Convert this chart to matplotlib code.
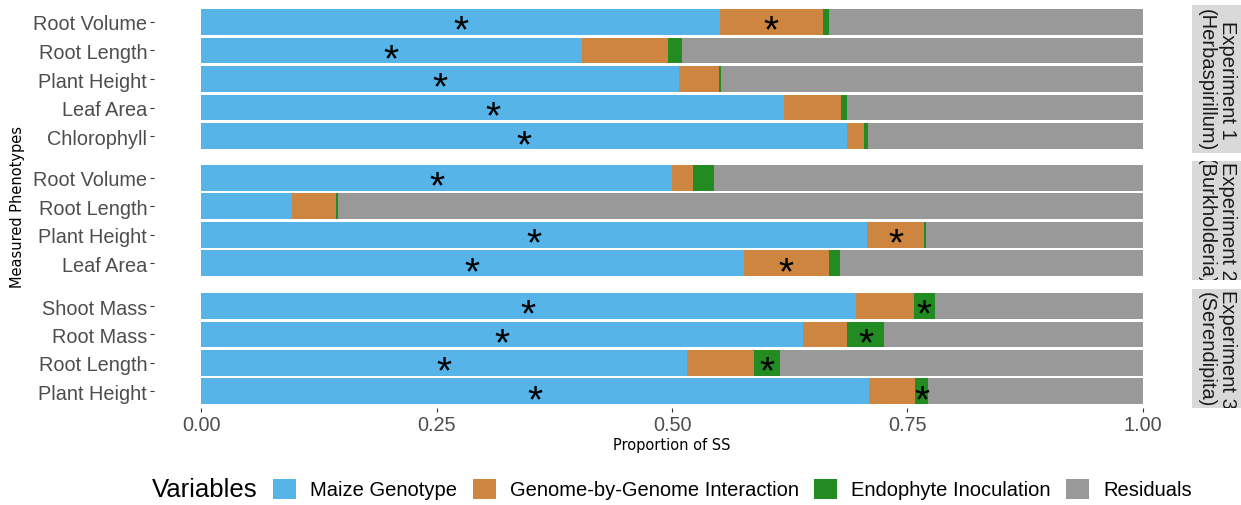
import matplotlib.pyplot as plt
from matplotlib.patches import Patch

# data (proportion of sum of squares)
experiments = ["Experiment 1\n(Herbaspirillum)", "Experiment 2\n(Burkholderia)", "Experiment 3\n(Serendipita)"]
phenotypes = [["Root Volume", "Root Length", "Plant Height", "Leaf Area", "Chlorophyll"],
              ["Root Volume", "Root Length", "Plant Height", "Leaf Area"],
              ["Shoot Mass", "Root Mass", "Root Length", "Plant Height"]]
maize = [[0.551, 0.404, 0.507, 0.619, 0.686],
         [0.500, 0.097, 0.707, 0.576],
         [0.695, 0.639, 0.516, 0.709]]
gxg = [[0.109, 0.092, 0.043, 0.060, 0.018],
       [0.022, 0.046, 0.061, 0.091],
       [0.062, 0.047, 0.071, 0.049]]
endo = [[0.007, 0.015, 0.002, 0.007, 0.004],
        [0.023, 0.002, 0.002, 0.011],
        [0.022, 0.039, 0.028, 0.014]]
resid = [[0.333, 0.489, 0.448, 0.314, 0.292],
         [0.455, 0.855, 0.230, 0.322],
         [0.221, 0.275, 0.385, 0.228]]
# index of significant terms (0 maize, 1 gxg, 2 endophyte)
signif = [[[0, 1], [0], [0], [0], [0]],
          [[0], [], [0, 1], [0, 1]],
          [[0, 2], [0, 2], [0, 2], [0, 2]]]

var_names = ["Maize Genotype", "Genome-by-Genome Interaction", "Endophyte Inoculation", "Residuals"]
colors = ["#56B4E9", "#CD853F", "#228B22", "#999999"]

W, H = 1241, 506
fig = plt.figure(figsize=(W / 100, H / 100), dpi=100)

tickfont = "Liberation Sans"
panels_px = [(5.7, 154.3), (161.7, 281.3), (290.0, 409.3)]
x0, x1 = 154, 1190

for k in range(3):
    top, bot = panels_px[k]
    ax = fig.add_axes([x0 / W, 1 - bot / H, (x1 - x0) / W, (bot - top) / H])
    n = len(phenotypes[k])
    ys = list(range(n))
    left = [0] * n
    series = [maize[k], gxg[k], endo[k], resid[k]]
    for s, vals in enumerate(series):
        ax.barh(ys, vals, left=left, height=0.9, color=colors[s], linewidth=0)
        for i in range(n):
            if s in signif[k][i]:
                ax.text(left[i] + vals[i] / 2, i + 0.34, "*", ha="center", va="center",
                        fontsize=28, family=tickfont, color="black")
        left = [a + b for a, b in zip(left, vals)]
    ax.set_xlim(-0.05, 1.05)
    ax.set_ylim(n - 1 + 0.6, -0.6)
    ax.set_yticks(ys)
    ax.set_yticklabels(phenotypes[k], family=tickfont, fontsize=14.3, color="#4d4d4d")
    for sp in ax.spines.values():
        sp.set_visible(False)
    ax.tick_params(axis="y", length=2.7, width=0.8, color="#333333", pad=2.2)
    if k == 2:
        ax.set_xticks([0, 0.25, 0.5, 0.75, 1.0])
        ax.set_xticklabels(["0.00", "0.25", "0.50", "0.75", "1.00"], family=tickfont,
                           fontsize=14.3, color="#4d4d4d")
        ax.tick_params(axis="x", length=2.7, width=0.8, color="#333333", pad=2.2)
        ax.set_xlabel("Proportion of SS", fontsize=10.5, labelpad=2)
    else:
        ax.set_xticks([])

    # facet strip, one text per line (first line on the right)
    sax = fig.add_axes([1192 / W, 1 - bot / H, 49 / W, (bot - top) / H])
    sax.set_facecolor("#D9D9D9")
    sax.set_xlim(1192, 1241)
    sax.set_ylim(0, 1)
    sax.set_xticks([])
    sax.set_yticks([])
    for sp in sax.spines.values():
        sp.set_visible(False)
    lines = experiments[k].split("\n")
    for xl, line in zip([1228, 1206], lines):
        sax.text(xl, 0.5, line, rotation=-90, ha="center", va="center",
                 family=tickfont, fontsize=14.5, color="#1a1a1a", clip_on=True)

fig.text(18 / W, 1 - 207.5 / H, "Measured Phenotypes", rotation=90, ha="center", va="center",
         fontsize=10.5)

fig.text(152 / W, 1 - 490 / H, "Variables", ha="left", va="center", family=tickfont, fontsize=18.5)
handles = [Patch(facecolor=c, edgecolor="none") for c in colors]
fig.legend(handles, var_names, loc="center left", bbox_to_anchor=(273 / W, 1 - 490 / H),
           ncol=4, frameon=False, prop={"family": tickfont, "size": 14.5},
           handlelength=1.15, handleheight=1.15, handletextpad=0.7, columnspacing=0.76,
           borderpad=0, borderaxespad=0)

fig.savefig("out.png", dpi=100)
